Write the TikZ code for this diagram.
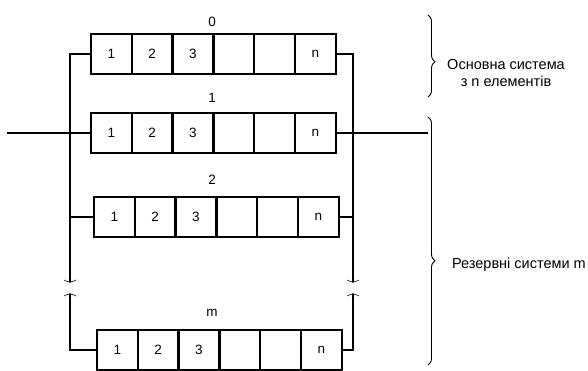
\documentclass[tikz,border=0pt]{standalone}
\usepackage{fontspec}
\setmainfont{Liberation Sans}
\usetikzlibrary{decorations.pathreplacing}

\begin{document}
\begin{tikzpicture}[
x=1pt,y=-1pt,
cell/.style={draw,line width=2.4pt,minimum width=40.8pt,minimum height=40pt,
	inner sep=0pt,outer sep=0pt,font=\fontsize{13.5}{15}\selectfont},
rowlabel/.style={font=\fontsize{13.5}{15}\selectfont},
bus/.style={line width=1.8pt},
brk/.style={decorate,decoration={brace,amplitude=2.5pt},line width=0.6pt},
group/.style={decorate,decoration={brace,amplitude=7pt,aspect=#1},line width=0.9pt},
note/.style={font=\fontsize{14.5}{17}\selectfont,align=center}
]
\useasboundingbox (0,0) rectangle (588,371);

% rows of elements
\foreach \r/\lab/\x/\y/\ly in {a/0/91/34/22, b/1/91/113/98, c/2/94/197/180, d/m/97/330/313}{
	\foreach \i/\t in {1/1,2/2,3/3,4/,5/,6/n}
		\node[cell] (\r\i) at (\x+20.4+40.8*\i-40.8,\y+20) {\t};
	\node[rowlabel] (\r lab) at (212,\ly) {\lab};
}

% bus ends
\coordinate (lbrk) at (70,282);
\coordinate (lres) at (70,294);
\coordinate (rbrk) at (353,282);
\coordinate (rres) at (353,294);
\coordinate (in) at (7,133);
\coordinate (out) at (428,133);

\draw[bus] (a1.west) -| (lbrk);
\draw[bus] (c1.west) -- (c1.west -| lbrk);
\draw[bus] (lres) |- (d1.west);
\draw[bus] (a6.east) -| (rbrk);
\draw[bus] (c6.east) -- (c6.east -| rbrk);
\draw[bus] (rres) |- (d6.east);
\draw[bus] (in) -- (b1.west);
\draw[bus] (b6.east) -- (out);

% breaks
\draw[brk] ([xshift=6pt,yshift=2pt]lbrk) -- ([xshift=-6pt,yshift=2pt]lbrk);
\draw[brk] ([xshift=-6pt,yshift=-2pt]lres) -- ([xshift=6pt,yshift=-2pt]lres);
\draw[brk] ([xshift=6pt,yshift=2pt]rbrk) -- ([xshift=-6pt,yshift=2pt]rbrk);
\draw[brk] ([xshift=-6pt,yshift=-2pt]rres) -- ([xshift=6pt,yshift=-2pt]rres);

% braces
\coordinate (g1t) at (428,15);
\coordinate (g1b) at (428,97);
\coordinate (g2t) at (428,117);
\coordinate (g2b) at (428,365);
\draw[group=0.57] (g1t) -- (g1b);
\draw[group=0.58] (g2t) -- (g2b);

\node[note] (main) at (506,73) {Основна система\\з n елементів};
\node[note,anchor=east,inner sep=0pt] (res) at (586,265) {Резервні системи m};
\end{tikzpicture}
\end{document}
